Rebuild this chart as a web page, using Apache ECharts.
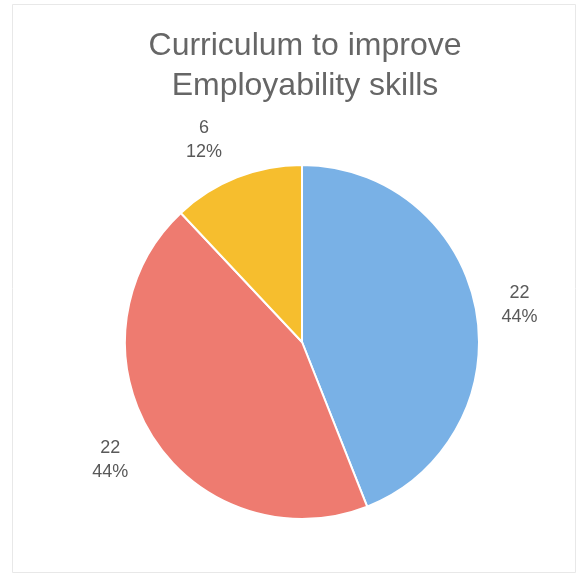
<!DOCTYPE html>
<html>
<head>
<meta charset="utf-8">
<script src="https://cdn.jsdelivr.net/npm/echarts@6/dist/echarts.min.js"></script>
<style>
html,body{margin:0;padding:0;background:#fff;}
#chart{width:582px;height:576px;}
</style>
</head>
<body>
<div id="chart"></div>
<script>
// ---- data ----
const titleText = 'Curriculum to improve\nEmployability skills';
const categories = ['Blue', 'Red', 'Yellow'];
const values = [22, 22, 6];
const percents = ['44%', '44%', '12%'];
const colors = ['#79b1e6', '#ee7b70', '#f6be2e'];

// label placement tuning (layout only)
const labelLayout = [
  { length: 21, length2: 5 },
  { length: 43, length2: -12 },
  { length: 40, length2: 0 }
];

const chart = echarts.init(document.getElementById('chart'), null, { renderer: 'canvas' });

const data = categories.map((c, i) => ({
  name: c,
  value: values[i],
  itemStyle: { color: colors[i] },
  labelLine: { show: false, length: labelLayout[i].length, length2: labelLayout[i].length2 }
}));

chart.setOption({
  backgroundColor: '#ffffff',
  animation: false,
  title: {
    text: titleText,
    left: 305,
    textAlign: 'center',
    top: 26,
    padding: 0,
    textStyle: {
      fontFamily: 'Liberation Sans, Arial, sans-serif',
      fontSize: 32,
      fontWeight: 'normal',
      color: '#666666',
      lineHeight: 40
    }
  },
  graphic: [{
    type: 'rect',
    shape: { x: 12.5, y: 4.5, width: 563, height: 568 },
    style: { fill: 'none', stroke: '#e8e8e8', lineWidth: 1 },
    silent: true,
    z: -10
  }],
  series: [{
    type: 'pie',
    center: [302, 342],
    radius: 177,
    startAngle: 90,
    clockwise: true,
    avoidLabelOverlap: false,
    itemStyle: { borderColor: '#ffffff', borderWidth: 2 },
    label: {
      show: true,
      position: 'outside',
      distanceToLabelLine: 0,
      formatter: (p) => '{a|' + values[p.dataIndex] + '}\n{a|' + percents[p.dataIndex] + '}',
      rich: {
        a: {
          fontFamily: 'Liberation Sans, Arial, sans-serif',
          fontSize: 18,
          lineHeight: 24,
          color: '#595959',
          align: 'center'
        }
      }
    },
    labelLine: { show: false },
    emphasis: { disabled: true },
    data: data
  }]
});
</script>
</body>
</html>
